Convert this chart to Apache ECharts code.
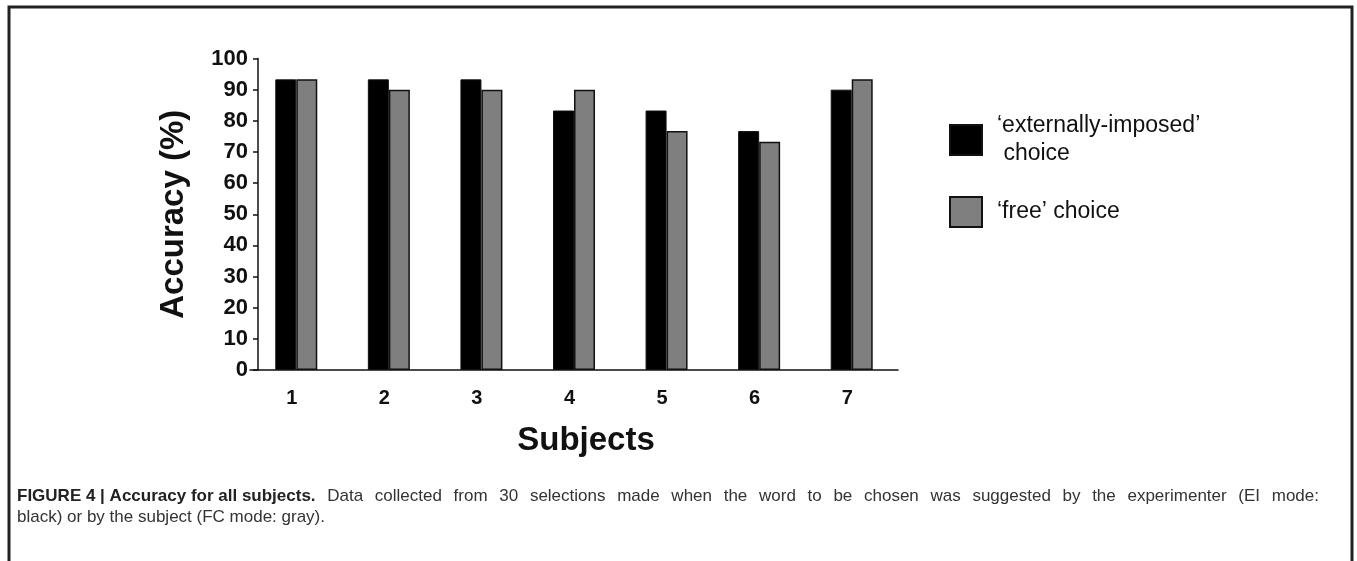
<!DOCTYPE html>
<html>
<head>
<meta charset="utf-8">
<script src="https://cdn.jsdelivr.net/npm/echarts@6/dist/echarts.min.js"></script>
<style>
html,body{margin:0;padding:0;background:#fff;}
#chart{width:1357px;height:561px;}
</style>
</head>
<body>
<div id="chart"></div>
<script>
const categories = ['1','2','3','4','5','6','7'];
const externallyImposed = [93.3, 93.3, 93.3, 83.3, 83.3, 76.7, 90];
const freeChoice = [93.3, 90, 90, 90, 76.7, 73.3, 93.3];
const seriesNames = ['‘externally-imposed’ choice', '‘free’ choice'];
const legendLabels = ['‘externally-imposed’\n choice', '‘free’ choice'];
const yAxisTitle = 'Accuracy (%)';
const xAxisTitle = 'Subjects';
const captionBold = 'FIGURE 4 | Accuracy for all subjects.';
const captionLine1 = 'Data collected from 30 selections made when the word to be chosen was suggested by the experimenter (EI mode:';
const captionLine2 = 'black) or by the subject (FC mode: gray).';

const FONT = '"Liberation Sans", Arial, Helvetica, sans-serif';
const CAP_SIZE = 17;
const CAP_WIDTH = 1302;

// justified first caption line (journal style): spread word gaps of the regular part
const regWords = captionLine1.split(' ');
const mctx = document.createElement('canvas').getContext('2d');
mctx.font = 'bold ' + CAP_SIZE + 'px ' + FONT;
const boldWidth = mctx.measureText(captionBold).width;
mctx.font = CAP_SIZE + 'px ' + FONT;
let wordsWidth = 0;
regWords.forEach(w => { wordsWidth += mctx.measureText(w).width; });
const gapWidth = Math.max(4, (CAP_WIDTH - boldWidth - wordsWidth) / regWords.length);
const line1 = '{b|' + captionBold + '}{s| }' +
              regWords.map(w => '{r|' + w + '}').join('{s| }');

const chart = echarts.init(document.getElementById('chart'), null, {renderer: 'canvas'});
chart.setOption({
  backgroundColor: '#fff',
  animation: false,
  textStyle: {fontFamily: FONT},
  graphic: [{
    type: 'rect',
    shape: {x: 9, y: 7, width: 1343, height: 620},
    style: {fill: 'none', stroke: '#222', lineWidth: 3},
    silent: true
  }],
  title: {
    left: 17, top: 486, padding: 0,
    text: line1 + '\n{r|' + captionLine2 + '}',
    textStyle: {
      rich: {
        b: {fontFamily: FONT, fontWeight: 'bold', fontSize: CAP_SIZE, color: '#222', lineHeight: 21},
        r: {fontFamily: FONT, fontWeight: 'normal', fontSize: CAP_SIZE, color: '#333', lineHeight: 21},
        s: {fontFamily: FONT, fontSize: CAP_SIZE, width: gapWidth, lineHeight: 21}
      }
    }
  },
  legend: {
    orient: 'vertical',
    left: 949, top: 112, padding: 0,
    icon: 'rect',
    itemWidth: 32, itemHeight: 30, itemGap: 28, itemTextGap: 16,
    data: seriesNames,
    formatter: function (name) { return legendLabels[seriesNames.indexOf(name)]; },
    textStyle: {fontFamily: FONT, fontSize: 23, lineHeight: 28, color: '#111', padding: [0, 0, 0, 10]}
  },
  grid: {left: 250, width: 648, top: 58.5, bottom: 191, containLabel: false},
  xAxis: {
    type: 'category',
    data: categories,
    boundaryGap: true,
    axisLine: {lineStyle: {color: '#111', width: 1.5}},
    axisTick: {show: false},
    axisLabel: {color: '#111', fontSize: 20, fontWeight: 'bold', fontFamily: FONT, margin: 18, padding: [0, 9, 0, 0]},
    name: xAxisTitle,
    nameLocation: 'middle',
    nameGap: 54,
    nameTextStyle: {color: '#111', fontSize: 33, fontWeight: 'bold', fontFamily: FONT, padding: [0, 0, 0, 24]}
  },
  yAxis: {
    type: 'value',
    min: 0, max: 100, interval: 10,
    offset: -8,
    splitLine: {show: false},
    axisLine: {show: true, lineStyle: {color: '#111', width: 1.5}},
    axisTick: {show: true, length: 5, lineStyle: {color: '#111', width: 1.5}},
    axisLabel: {color: '#111', fontSize: 22, fontWeight: 'bold', fontFamily: FONT, margin: 10},
    name: yAxisTitle,
    nameLocation: 'middle',
    nameGap: 68,
    nameRotate: 90,
    nameTextStyle: {color: '#111', fontSize: 33, fontWeight: 'bold', fontFamily: FONT}
  },
  series: [
    {
      name: seriesNames[0], type: 'bar', data: externallyImposed,
      barWidth: 21, barGap: '0%',
      itemStyle: {color: '#000', borderColor: '#111', borderWidth: 1}
    },
    {
      name: seriesNames[1], type: 'bar', data: freeChoice,
      barWidth: 21, barGap: '0%',
      itemStyle: {color: '#7f7f7f', borderColor: '#111', borderWidth: 1.5}
    }
  ]
});
</script>
</body>
</html>
